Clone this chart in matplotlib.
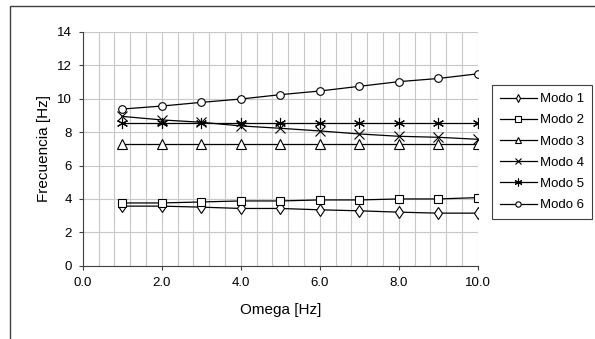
import numpy as np
import matplotlib
matplotlib.use("Agg")
import matplotlib.pyplot as plt
from matplotlib.ticker import MultipleLocator, FormatStrFormatter
from matplotlib.patches import Rectangle

plt.rcParams['font.family'] = ['Liberation Sans', 'DejaVu Sans']

omega = [1, 2, 3, 4, 5, 6, 7, 8, 9, 10]
modo1 = [3.57, 3.57, 3.51, 3.43, 3.43, 3.35, 3.29, 3.21, 3.15, 3.15]
modo2 = [3.76, 3.76, 3.82, 3.88, 3.88, 3.94, 3.94, 4.00, 4.00, 4.08]
modo3 = [7.31, 7.31, 7.31, 7.31, 7.31, 7.31, 7.31, 7.31, 7.31, 7.31]
modo4 = [8.94, 8.73, 8.59, 8.37, 8.23, 8.07, 7.89, 7.75, 7.69, 7.57]
modo5 = [8.56, 8.56, 8.56, 8.56, 8.56, 8.56, 8.56, 8.56, 8.56, 8.56]
modo6 = [9.38, 9.56, 9.78, 9.98, 10.24, 10.46, 10.74, 11.02, 11.21, 11.49]
labels = ['Modo 1', 'Modo 2', 'Modo 3', 'Modo 4', 'Modo 5', 'Modo 6']
markers = ['d', 's', '^', 'x', (6, 2, 0), 'o']
msizes = [6, 5.5, 6.5, 7, 8, 5.5]

fig = plt.figure(figsize=(5.95, 3.39), dpi=100)
ax = fig.add_axes([0.139, 0.216, 0.664, 0.690])

# outer chart frame
fig.patches.append(Rectangle((10/595, -0.05), 1.2, 1 - 6/339 + 0.05, transform=fig.transFigure,
                             fill=False, edgecolor='#404040', linewidth=1.0, clip_on=False))

series = [modo1, modo2, modo3, modo4, modo5, modo6]
for vals, lab, mk, ms in zip(series, labels, markers, msizes):
    ax.plot(omega, vals, color='black', linewidth=0.9, marker=mk, markersize=ms,
            markerfacecolor='white', markeredgecolor='black', markeredgewidth=0.8, label=lab)

ax.set_xlim(0, 10)
ax.set_ylim(0, 14)
ax.xaxis.set_major_locator(MultipleLocator(2))
ax.xaxis.set_minor_locator(MultipleLocator(0.4))
ax.xaxis.set_major_formatter(FormatStrFormatter('%.1f'))
ax.yaxis.set_major_locator(MultipleLocator(2))
ax.grid(which='both', axis='x', color='#c8c8c8', linewidth=0.8)
ax.grid(which='major', axis='y', color='#c8c8c8', linewidth=0.8)
ax.set_axisbelow(True)
for s in ['top', 'right']:
    ax.spines[s].set_visible(False)
for s in ['left', 'bottom']:
    ax.spines[s].set_color('#404040')
ax.tick_params(which='major', length=3, color='#404040', labelsize=9.5, pad=5)
ax.tick_params(which='minor', length=0)

ax.set_xlabel('Omega [Hz]', fontsize=11, labelpad=10)
ax.set_ylabel('Frecuencia [Hz]', fontsize=11, labelpad=4)

leg = fig.legend(loc='upper left', bbox_to_anchor=(492/595, 1 - 85/339), borderaxespad=0,
                 fontsize=9.5, fancybox=False, edgecolor='#404040', framealpha=1,
                 handlelength=2.8, labelspacing=0.68, borderpad=0.6, handletextpad=0.2,
                 markerscale=0.7)
leg.get_frame().set_linewidth(0.8)

fig.savefig("out.png", dpi=100)
